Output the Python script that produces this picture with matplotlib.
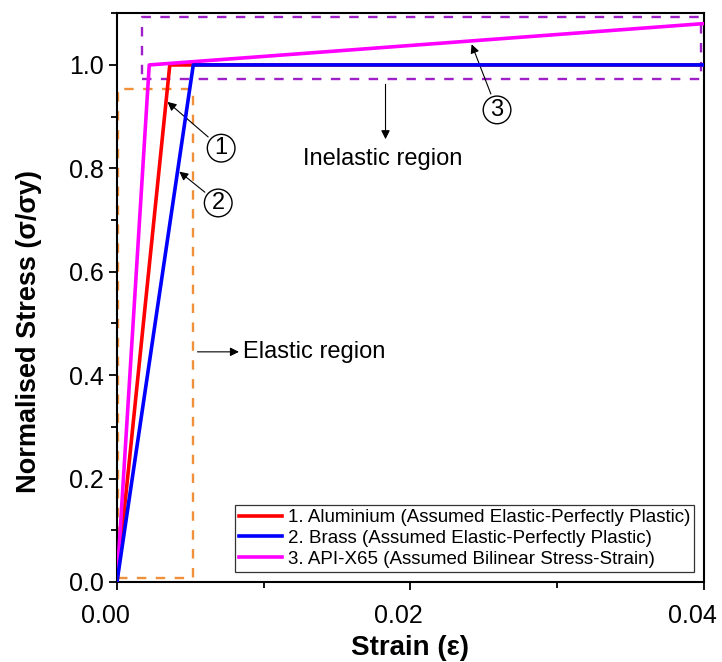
import matplotlib
matplotlib.use("Agg")
import matplotlib.pyplot as plt
import matplotlib.transforms as mtransforms
from matplotlib.ticker import MultipleLocator

plt.rcParams['font.family'] = ['Liberation Sans', 'DejaVu Sans']

# stress-strain curves (strain, normalised stress)
al_strain = [0.0, 0.0036, 0.04]
al_stress = [0.0, 1.0, 1.0]
brass_strain = [0.0, 0.0052, 0.04]
brass_stress = [0.0, 1.0, 1.0]
x65_strain = [0.0, 0.0022, 0.04]
x65_stress = [0.0, 1.0, 1.08]

labels = ["1. Aluminium (Assumed Elastic-Perfectly Plastic)",
          "2. Brass (Assumed Elastic-Perfectly Plastic)",
          "3. API-X65 (Assumed Bilinear Stress-Strain)"]

# region boxes (x0, x1, y0, y1)
elastic_box = [0.00004, 0.0052, 0.008, 0.954]
inelastic_box = [0.0017, 0.0398, 0.973, 1.093]

fig, ax = plt.subplots(figsize=(7.22, 6.62), dpi=100)
fig.subplots_adjust(left=0.162, right=0.975, top=0.98, bottom=0.121)

ax.plot(al_strain, al_stress, color='#FF0000', lw=2.6, label=labels[0], zorder=3)
ax.plot(brass_strain, brass_stress, color='#0000FF', lw=2.6, label=labels[1], zorder=4)
ax.plot(x65_strain, x65_stress, color='#FF00FF', lw=2.6, label=labels[2], zorder=3)

x0, x1, y0, y1 = elastic_box
ax.plot([x0, x1, x1, x0, x0], [y0, y0, y1, y1, y0], color='#F0903A', lw=1.7,
        dashes=(4, 4), zorder=2)
x0, x1, y0, y1 = inelastic_box
ax.plot([x0, x1, x1, x0, x0], [y0, y0, y1, y1, y0], color='#A020C8', lw=1.7,
        dashes=(4, 4), zorder=2)

circ = dict(boxstyle='circle,pad=0.12', fc='white', ec='black', lw=1.0)
arrow = dict(arrowstyle='-|>', color='black', lw=0.8, mutation_scale=13)
ax.annotate('1', xy=(0.0033, 0.932), xytext=(0.0071, 0.839), fontsize=17,
            ha='center', va='center', bbox=circ, arrowprops=arrow)
ax.annotate('2', xy=(0.0041, 0.797), xytext=(0.0069, 0.733), fontsize=17,
            ha='center', va='center', bbox=circ, arrowprops=arrow)
ax.annotate('3', xy=(0.0241, 1.045), xytext=(0.0259, 0.913), fontsize=17,
            ha='center', va='center', bbox=circ, arrowprops=arrow)

ax.annotate('', xy=(0.0183, 0.851), xytext=(0.0183, 0.968), arrowprops=arrow)
ax.text(0.0181, 0.818, 'Inelastic region', fontsize=17, ha='center', va='center')
ax.annotate('', xy=(0.0085, 0.445), xytext=(0.0053, 0.445), arrowprops=arrow)
ax.text(0.0086, 0.445, 'Elastic region', fontsize=17, ha='left', va='center')

ax.set_xlim(0, 0.04)
ax.set_ylim(0, 1.1)
ax.xaxis.set_major_locator(MultipleLocator(0.02))
ax.xaxis.set_minor_locator(MultipleLocator(0.01))
ax.yaxis.set_major_locator(MultipleLocator(0.2))
ax.yaxis.set_minor_locator(MultipleLocator(0.1))
ax.xaxis.set_major_formatter(plt.FormatStrFormatter('%.2f'))
ax.yaxis.set_major_formatter(plt.FormatStrFormatter('%.1f'))
ax.tick_params(which='major', length=6, width=1.3, labelsize=18)
ax.tick_params(axis='x', which='major', pad=10)
ax.tick_params(which='minor', length=4, width=1.3)
for s in ax.spines.values():
    s.set_linewidth(1.5)

# x tick labels sit a little left of their ticks in the original
shift = mtransforms.ScaledTranslation(-12 / 100, 0, fig.dpi_scale_trans)
for lab in ax.get_xticklabels():
    lab.set_transform(lab.get_transform() + shift)

ax.set_xlabel('Strain (ε)', fontsize=20, fontweight='bold', labelpad=5)
ax.set_ylabel('Normalised Stress (σ/σy)', fontsize=19.5, fontweight='bold')
ax.yaxis.set_label_coords(-0.128, 0.44)

leg = ax.legend(loc='lower right', fontsize=13.5, frameon=True, fancybox=False,
                edgecolor='black', handlelength=2.3, borderpad=0.2,
                labelspacing=0.2, handletextpad=0.3, borderaxespad=0.55)
leg.get_frame().set_linewidth(0.9)

fig.savefig('out.png', dpi=100)
